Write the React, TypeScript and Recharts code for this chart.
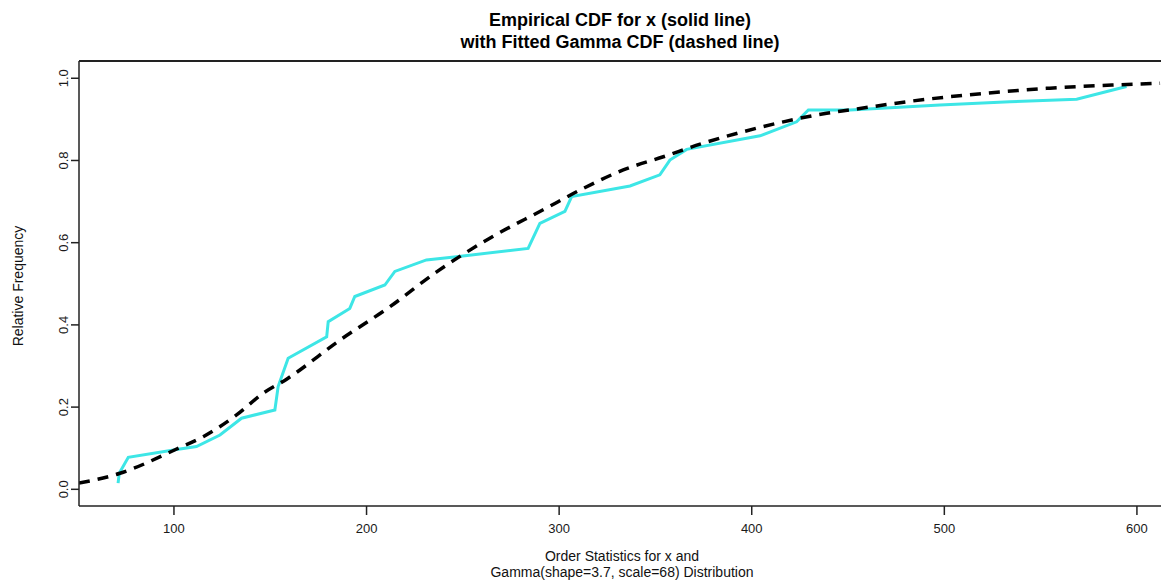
import { LineChart, Line, XAxis, YAxis, ReferenceLine } from "recharts";

const empiricalX = [71, 71.6, 76.3, 101.4, 111.7, 123.9, 135.1, 152.4, 154.1, 159.3, 179.3, 180.1, 191.3, 193.9, 209.5, 214.7, 231.1, 246.7, 283.9, 290, 303, 306.5, 336.8, 352.3, 357.5, 366.2, 404.3, 423.3, 429.4, 451, 497.7, 534, 568.7, 594.6];
const empiricalY = [0.015, 0.039, 0.078, 0.097, 0.104, 0.132, 0.173, 0.193, 0.25, 0.319, 0.371, 0.408, 0.44, 0.469, 0.497, 0.53, 0.558, 0.566, 0.586, 0.647, 0.676, 0.712, 0.738, 0.765, 0.801, 0.827, 0.86, 0.894, 0.923, 0.923, 0.935, 0.943, 0.949, 0.98];

// fitted gamma CDF (dashed black)
const gammaX = [50.7, 72, 101.4, 115.2, 132.5, 146.4, 158.5, 186.2, 212.1, 236.4, 264, 291.7, 312.5, 333.3, 354.1, 374.8, 395.6, 416.4, 438.9, 451, 483.9, 520.2, 554.8, 589.5, 612];
const gammaY = [0.015, 0.039, 0.098, 0.128, 0.181, 0.234, 0.268, 0.363, 0.444, 0.529, 0.611, 0.68, 0.732, 0.777, 0.809, 0.842, 0.87, 0.894, 0.915, 0.923, 0.945, 0.963, 0.976, 0.984, 0.988];

const xTicks = [100, 200, 300, 400, 500, 600];
const yTicks = [0, 0.2, 0.4, 0.6, 0.8, 1.0];

const xDomain = [50.7, 612.5];
const yDomain = [-0.0406, 1.042];

const empirical = empiricalX.map((x, i) => ({ x, y: empiricalY[i] }));
const gamma = gammaX.map((x, i) => ({ x, y: gammaY[i] }));

const font = "'Liberation Sans', Arial, sans-serif";
const boxColor = "#222";

const XTick = (props: any) => {
  const { x, y, payload } = props;
  return (
    <text x={x} y={y + 16} textAnchor="middle" fontSize={13} fontFamily={font} fill="#1a1a1a">
      {payload.value}
    </text>
  );
};

const YTick = (props: any) => {
  const { x, y, payload } = props;
  return (
    <text x={x - 1} y={y} transform={`rotate(-90, ${x - 1}, ${y})`} textAnchor="middle" fontSize={13} fontFamily={font} fill="#1a1a1a">
      {Number(payload.value).toFixed(1)}
    </text>
  );
};

export default function App() {
  return (
    <div style={{ position: "absolute", left: 0, top: 0, width: 1161, height: 582, background: "#fff" }}>
      <LineChart width={1161} height={582} margin={{ top: 61, right: 0, left: 0, bottom: 0 }}>
        <XAxis
          type="number"
          dataKey="x"
          domain={xDomain}
          ticks={xTicks}
          allowDataOverflow
          height={76}
          tickSize={9}
          axisLine={{ stroke: boxColor, strokeWidth: 1.5 }}
          tickLine={{ stroke: boxColor, strokeWidth: 1.5 }}
          tick={<XTick />}
        />
        <YAxis
          type="number"
          dataKey="y"
          domain={yDomain}
          ticks={yTicks}
          allowDataOverflow
          width={79}
          tickSize={8}
          axisLine={{ stroke: boxColor, strokeWidth: 1.5 }}
          tickLine={{ stroke: boxColor, strokeWidth: 1.5 }}
          tick={<YTick />}
        />
        <ReferenceLine y={yDomain[1]} stroke={boxColor} strokeWidth={2} />
        <Line
          data={empirical}
          dataKey="y"
          type="linear"
          stroke="#3de6e6"
          strokeWidth={3}
          dot={false}
          isAnimationActive={false}
        />
        <Line
          data={gamma}
          dataKey="y"
          type="monotone"
          stroke="#000"
          strokeWidth={3.5}
          strokeDasharray="11 8"
          dot={false}
          isAnimationActive={false}
        />
      </LineChart>
      <svg width={1161} height={582} style={{ position: "absolute", left: 0, top: 0, pointerEvents: "none" }}>
        <text x={620} y={26} textAnchor="middle" fontSize={18} fontWeight="bold" fontFamily={font} fill="#000">
          Empirical CDF for x (solid line)
        </text>
        <text x={620} y={48} textAnchor="middle" fontSize={18} fontWeight="bold" fontFamily={font} fill="#000">
          with Fitted Gamma CDF (dashed line)
        </text>
        <text x={622} y={561} textAnchor="middle" fontSize={14} fontFamily={font} fill="#111">
          Order Statistics for x and
        </text>
        <text x={622} y={577} textAnchor="middle" fontSize={14} fontFamily={font} fill="#111">
          Gamma(shape=3.7, scale=68) Distribution
        </text>
        <text x={23} y={286} transform="rotate(-90, 23, 286)" textAnchor="middle" fontSize={14} fontFamily={font} fill="#111">
          Relative Frequency
        </text>
      </svg>
    </div>
  );
}
